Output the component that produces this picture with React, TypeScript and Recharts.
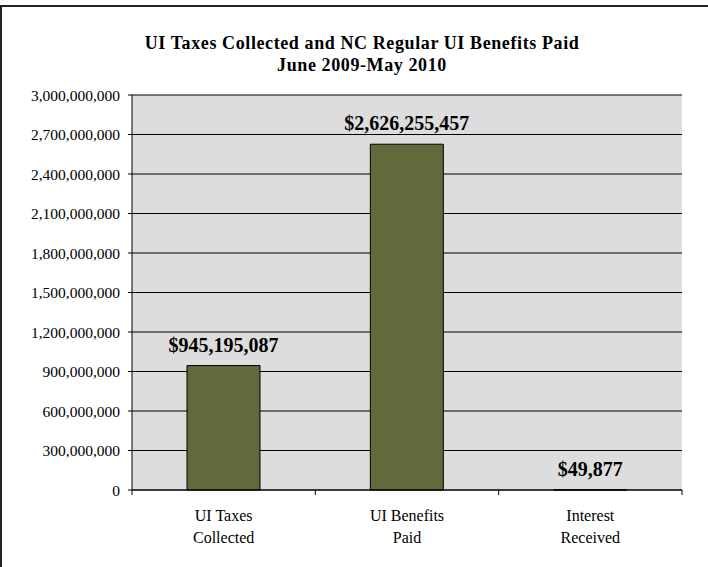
import { BarChart, Bar, XAxis, YAxis, CartesianGrid, LabelList } from "recharts";

const categories = ["UI Taxes|Collected", "UI Benefits|Paid", "Interest|Received"];
const amounts = [945195087, 2626255457, 49877];
const yTicks = [0, 300000000, 600000000, 900000000, 1200000000, 1500000000, 1800000000, 2100000000, 2400000000, 2700000000, 3000000000];
const titleLines = ["UI Taxes Collected and NC Regular UI Benefits Paid", "June 2009-May 2010"];

const data = categories.map((name, i) => ({ name, amount: amounts[i] }));

const FONT = '"Liberation Serif", "Times New Roman", serif';
const W = 708;
const H = 567;
const PLOT_LEFT = 132;
const PLOT_RIGHT = 26;
const band = (W - PLOT_LEFT - PLOT_RIGHT) / categories.length;

function CategoryTick(props: any) {
  const { x, y, payload, index } = props;
  const lines = String(payload.value).split("|");
  const left = x - band / 2;
  const right = x + band / 2;
  return (
    <g>
      <line x1={left} y1={y} x2={left} y2={y + 5} stroke="#000" />
      {index === categories.length - 1 && <line x1={right} y1={y} x2={right} y2={y + 5} stroke="#000" />}
      {lines.map((ln, i) => (
        <text
          key={i}
          x={x}
          y={y + 25 + i * 22}
          textAnchor="middle"
          dominantBaseline="central"
          style={{ fontFamily: FONT, fontSize: 16, fill: "#000" }}
        >
          {ln}
        </text>
      ))}
    </g>
  );
}

function ValueLabel(props: any) {
  const { x, y, width, value } = props;
  return (
    <text
      x={x + width / 2}
      y={y - 21}
      textAnchor="middle"
      dominantBaseline="central"
      style={{ fontFamily: FONT, fontSize: 20, fontWeight: "bold", fill: "#000" }}
    >
      ${Number(value).toLocaleString("en-US")}
    </text>
  );
}

export default function App() {
  return (
    <div style={{ position: "absolute", left: 0, top: 0, width: W, height: H, background: "#fff", overflow: "hidden" }}>
      {/* outer frame: only top and left edges show in the reference */}
      <div style={{
        position: "absolute", left: 0, top: 5, width: W, height: H,
        borderTop: "2px solid #222", borderLeft: "2px solid #222", boxSizing: "border-box",
      }} />

      {titleLines.map((t, i) => (
        <div key={t} style={{
          position: "absolute", left: 362 - 300, width: 600, top: 43 - 11 + i * 22,
          height: 22, lineHeight: "22px", textAlign: "center",
          fontFamily: FONT, fontSize: 18, fontWeight: "bold", letterSpacing: 0.6, color: "#000",
        }}>
          {t}
        </div>
      ))}

      <div style={{ position: "absolute", left: 0, top: 0 }}>
        <BarChart
          width={W}
          height={H}
          data={data}
          margin={{ top: 95, right: PLOT_RIGHT, left: 0, bottom: 0 }}
          barCategoryGap="30%"
        >
          <CartesianGrid vertical={false} fill="#DDDDDD" stroke="#000" strokeOpacity={1} />
          <XAxis
            dataKey="name"
            height={77}
            axisLine={{ stroke: "#000" }}
            tickLine={false}
            tickSize={0}
            tickMargin={0}
            interval={0}
            tick={<CategoryTick />}
          />
          <YAxis
            width={PLOT_LEFT}
            domain={[0, 3000000000]}
            ticks={yTicks}
            interval={0}
            axisLine={{ stroke: "#000" }}
            tickLine={{ stroke: "#000" }}
            tickSize={4}
            tickMargin={8}
            tickFormatter={(v: number) => v.toLocaleString("en-US")}
            tick={{ fontFamily: FONT, fontSize: 15.5, fill: "#000" }}
          />
          <YAxis yAxisId="frame" orientation="right" width={0} tick={false} axisLine={{ stroke: "#000" }} tickLine={false} />
          <Bar dataKey="amount" fill="#606A3A" stroke="#000" strokeWidth={1} isAnimationActive={false}>
            <LabelList dataKey="amount" content={<ValueLabel />} />
          </Bar>
        </BarChart>
      </div>
    </div>
  );
}
